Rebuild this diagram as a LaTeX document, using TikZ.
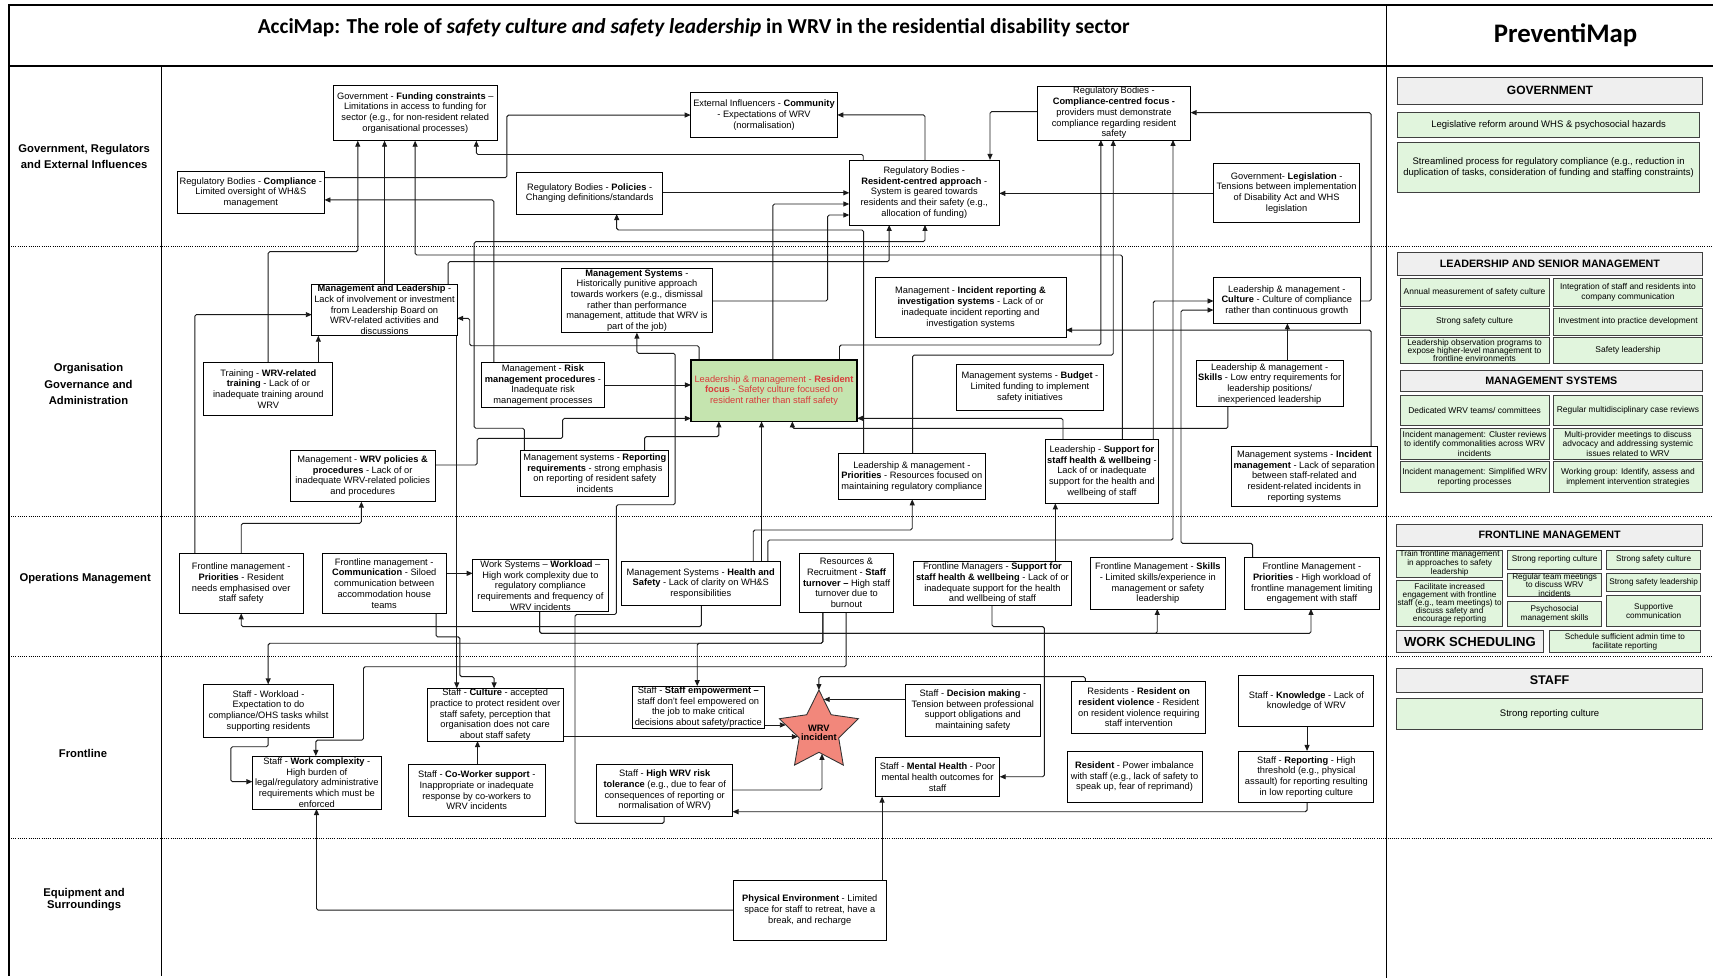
\documentclass[tikz,border=0pt]{standalone}
\usepackage{fontspec}
\setmainfont{Liberation Sans}
\newfontfamily\titlefont{Carlito}
\usetikzlibrary{arrows.meta}
\definecolor{rfgreen}{HTML}{C5E4AF}
\definecolor{rfred}{HTML}{D93A3A}
\definecolor{starfill}{HTML}{F2877B}
\definecolor{pmgreen}{HTML}{E1F5DD}
\definecolor{pmgray}{HTML}{EFEFEF}
\definecolor{linec}{HTML}{1A1A1A}
\pgfdeclarelayer{bg}
\pgfsetlayers{bg,main}
\newcommand{\accbox}[8]{%
  \pgfmathsetmacro{\cbW}{#5-#3}%
  \pgfmathsetmacro{\cbH}{#6-#4}%
  \pgfmathsetmacro{\cbX}{(#3+#5)/2}%
  \pgfmathsetmacro{\cbY}{(#4+#6)/2}%
  \node[#1, minimum width=\cbW pt, minimum height=\cbH pt] (#2) at (\cbX,\cbY) {};%
  \node[#7] at (#2.center) {#8};%
}
\begin{document}
\begin{tikzpicture}[x=1pt,y=-1pt,
  bx/.style={draw=black, line width=0.8pt, fill=white, inner sep=0pt, outer sep=0pt},
  rfbox/.style={bx, fill=rfgreen, line width=1.6pt},
  hdr/.style={draw=black!75, line width=0.8pt, fill=pmgray, inner sep=0pt, outer sep=0pt},
  pmb/.style={draw=black!75, line width=0.8pt, fill=pmgreen, inner sep=0pt, outer sep=0pt},
  tx/.style={align=center, inner sep=0pt, font=\fontsize{8.5}{9.8}\selectfont},
  rftx/.style={tx, text=rfred},
  hdtx/.style={align=center, inner sep=0pt, font=\fontsize{9.8}{11}\selectfont\bfseries},
  pmtx/.style={align=center, inner sep=0pt, font=\fontsize{8.7}{10.4}\selectfont},
  gtx/.style={align=center, inner sep=0pt, font=\fontsize{7.7}{8.8}\selectfont},
  ftx/.style={align=center, inner sep=0pt, font=\fontsize{7.5}{8.1}\selectfont},
  lane/.style={align=center, inner sep=0pt, font=\fontsize{10.3}{15}\selectfont\bfseries},
  cn/.style={draw=linec, line width=0.85pt, rounded corners=1.5pt, -{Triangle[length=5.5pt,width=4.6pt]}},
  frm/.style={line width=1.3pt},
  lanesep/.style={line width=0.7pt, dash pattern=on 0.9pt off 1.1pt},
]
\useasboundingbox (0,0) rectangle (1568,895);
% frame
\draw[frm] (1568,4.6) -- (8.1,4.6) -- (8.1,893);
\draw[frm] (8.1,60.3) -- (1568,60.3);
\draw[frm] (147.7,60.3) -- (147.7,893);
\draw[frm] (1269,4.6) -- (1269,895);
\foreach \yy in {225.5,472.5,601,767.5} \draw[lanesep] (8.1,\yy) -- (1568,\yy);
% titles
\node[font=\titlefont\fontsize{19.5}{23}\selectfont\bfseries] (title) at (635,25.5) {AcciMap: The role of \textit{safety culture and safety leadership} in WRV in the residential disability sector};
\node[font=\titlefont\fontsize{24.5}{28}\selectfont\bfseries] (pmtitle) at (1433,32) {PreventiMap};
% lane labels
\node[lane] (lgov) at (77,143) {Government, Regulators\\and External Influences};
\node[lane] (lorg) at (81,351.5) {Organisation\\Governance and\\Administration};
\node[lane] (lops) at (78,530) {Operations Management};
\node[lane] (lfl) at (76,690) {Frontline};
\node[lane, font=\fontsize{10.3}{11.6}\selectfont\bfseries] (leq) at (77,823.5) {Equipment and\\Surroundings};
% Government lane
\accbox{bx}{fund}{304.8}{77.8}{455.4}{128.8}{tx}{Government - \textbf{Funding constraints} –\\Limitations in access to funding for\\sector (e.g., for non-resident related\\organisational processes)}
\accbox{bx}{comm}{632.2}{84.5}{766.4}{126}{tx}{External Influencers - \textbf{Community}\\- Expectations of WRV\\(normalisation)}
\accbox{bx}{ccf}{949.5}{78.7}{1089.8}{128.1}{tx}{Regulatory Bodies -\\\textbf{Compliance-centred focus -}\\providers must demonstrate\\compliance regarding resident\\safety}
\accbox{bx}{compl}{162.2}{157.1}{297}{195.3}{tx}{Regulatory Bodies - \textbf{Compliance} -\\Limited oversight of WH\&S\\management}
\accbox{bx}{pol}{472.9}{157.7}{606.6}{195.9}{tx}{Regulatory Bodies - \textbf{Policies} -\\Changing definitions/standards}
\accbox{bx}{rca}{777.4}{146.4}{914.7}{205.9}{tx}{Regulatory Bodies -\\\textbf{Resident-centred approach} -\\System is geared towards\\residents and their safety (e.g.,\\allocation of funding)}
\accbox{bx}{leg}{1110.6}{149.5}{1244.8}{203.5}{tx}{Government- \textbf{Legislation} -\\Tensions between implementation\\of Disability Act and WHS\\legislation}
% Organisation lane
\accbox{bx}{ml}{285.4}{260}{418.5}{307.3}{tx}{\textbf{Management and Leadership} -\\Lack of involvement or investment\\from Leadership Board on\\WRV-related activities and\\discussions}
\accbox{bx}{msp}{514}{245.6}{652.1}{304.5}{tx}{\textbf{Management Systems} -\\Historically punitive approach\\towards workers (e.g., dismissal\\rather than performance\\management, attitude that WRV is\\part of the job)}
\accbox{bx}{irs}{801}{254.2}{975.8}{308.8}{tx}{Management - \textbf{Incident reporting \&}\\\textbf{investigation systems} - Lack of or\\inadequate incident reporting and\\investigation systems}
\accbox{bx}{cult}{1110.8}{253.9}{1244.9}{296}{tx}{Leadership \& management -\\\textbf{Culture} - Culture of compliance\\rather than continuous growth}
\accbox{bx}{trn}{186.6}{331.7}{304.7}{379.9}{tx}{Training - \textbf{WRV-related}\\\textbf{training} - Lack of or\\inadequate training around\\WRV}
\accbox{bx}{risk}{440.8}{331.7}{553.3}{373.2}{tx}{Management - \textbf{Risk}\\\textbf{management procedures} -\\Inadequate risk\\management processes}
\accbox{rfbox}{rf}{632.5}{329.2}{784.5}{385.7}{rftx}{Leadership \& management - \textbf{Resident}\\\textbf{focus} - Safety culture focused on\\resident rather than staff safety}
\accbox{bx}{bud}{875.5}{333.2}{1010}{375.3}{tx}{Management systems - \textbf{Budget} -\\Limited funding to implement\\safety initiatives}
\accbox{bx}{skl}{1094.7}{330.1}{1229.6}{372.3}{tx}{Leadership \& management -\\\textbf{Skills} - Low entry requirements for\\leadership positions/\\inexperienced leadership}
\accbox{bx}{wrvp}{265.4}{412.5}{398.5}{459.2}{tx}{Management - \textbf{WRV policies \&}\\\textbf{procedures} - Lack of or\\inadequate WRV-related policies\\and procedures}
\accbox{bx}{rreq}{476.8}{412.5}{612.2}{454}{tx}{Management systems - \textbf{Reporting}\\\textbf{requirements} - strong emphasis\\on reporting of resident safety\\incidents}
\accbox{bx}{pri}{767.6}{415}{901.7}{457.1}{tx}{Leadership \& management -\\\textbf{Priorities} - Resources focused on\\maintaining regulatory compliance}
\accbox{bx}{lsup}{956.9}{402.2}{1060.4}{460.7}{tx}{Leadership - \textbf{Support for}\\\textbf{staff health \& wellbeing} -\\Lack of or inadequate\\support for the health and\\wellbeing of staff}
\accbox{bx}{imgt}{1126.9}{408.3}{1261}{463.8}{tx}{Management systems - \textbf{Incident}\\\textbf{management} - Lack of separation\\between staff-related and\\resident-related incidents in\\reporting systems}
% Operations lane
\accbox{bx}{fpri}{163.9}{506.5}{277.7}{561.4}{tx}{Frontline management -\\\textbf{Priorities} - Resident\\needs emphasised over\\staff safety}
\accbox{bx}{comms}{294.8}{506.5}{408.6}{561.4}{tx}{Frontline management -\\\textbf{Communication} - Siloed\\communication between\\accommodation house\\teams}
\accbox{bx}{wload}{432.6}{512}{556.7}{559.9}{tx}{Work Systems – \textbf{Workload} –\\High work complexity due to\\regulatory compliance\\requirements and frequency of\\WRV incidents}
\accbox{bx}{hs}{568.8}{514.1}{714.1}{553.8}{tx}{Management Systems - \textbf{Health and}\\\textbf{Safety} - Lack of clarity on WH\&S\\responsibilities}
\accbox{bx}{turn}{731.8}{506.5}{818}{560.8}{tx}{Resources \&\\Recruitment - \textbf{Staff}\\\textbf{turnover –} High staff\\turnover due to\\burnout}
\accbox{bx}{fmsup}{835.8}{514.1}{981}{553.8}{tx}{Frontline Managers - \textbf{Support for}\\\textbf{staff health \& wellbeing} - Lack of or\\inadequate support for the health\\and wellbeing of staff}
\accbox{bx}{fmskl}{998.1}{510.4}{1121.6}{557.4}{tx}{Frontline Management - \textbf{Skills}\\- Limited skills/experience in\\management or safety\\leadership}
\accbox{bx}{fmpri}{1139.4}{510.4}{1262.2}{557.4}{tx}{Frontline Management -\\\textbf{Priorities} - High workload of\\frontline management limiting\\engagement with staff}
% Frontline lane
\accbox{bx}{swl}{186.6}{626.4}{305}{674.9}{tx}{Staff - Workload -\\Expectation to do\\compliance/OHS tasks whilst\\supporting residents}
\accbox{bx}{wcx}{231}{692}{349}{740.5}{tx}{Staff - \textbf{Work complexity} -\\High burden of\\legal/regulatory administrative\\requirements which must be\\enforced}
\accbox{bx}{scul}{390.8}{630.1}{515.7}{678.3}{tx}{Staff - \textbf{Culture} - accepted\\practice to protect resident over\\staff safety, perception that\\organisation does not care\\about staff safety}
\accbox{bx}{cow}{373.7}{699.7}{499}{747.6}{tx}{Staff - \textbf{Co-Worker support} -\\Inappropriate or inadequate\\response by co-workers to\\WRV incidents}
\accbox{bx}{emp}{578.7}{628}{699.7}{666.7}{tx}{Staff - \textbf{Staff empowerment –}\\staff don't feel empowered on\\the job to make critical\\decisions about safety/practice}
\accbox{bx}{tol}{546.4}{699.3}{670.5}{747.6}{tx}{Staff - \textbf{High WRV risk}\\\textbf{tolerance} (e.g., due to fear of\\consequences of reporting or\\normalisation of WRV)}
\accbox{bx}{dec}{828.6}{626.4}{952.5}{673.7}{tx}{Staff - \textbf{Decision making} -\\Tension between professional\\support obligations and\\maintaining safety}
\accbox{bx}{ror}{981}{624}{1103.8}{671.3}{tx}{Residents - \textbf{Resident on}\\\textbf{resident violence} - Resident\\on resident violence requiring\\staff intervention}
\accbox{bx}{know}{1134}{618.5}{1257.6}{665.2}{tx}{Staff - \textbf{Knowledge} - Lack of\\knowledge of WRV}
\accbox{bx}{mh}{801.2}{693.2}{915.1}{729.2}{tx}{Staff - \textbf{Mental Health} - Poor\\mental health outcomes for\\staff}
\accbox{bx}{rpi}{976.7}{687.4}{1100.3}{734.7}{tx}{\textbf{Resident} - Power imbalance\\with staff (e.g., lack of safety to\\speak up, fear of reprimand)}
\accbox{bx}{rep}{1134}{687.4}{1257.6}{734.7}{tx}{Staff - \textbf{Reporting} - High\\threshold (e.g., physical\\assault) for reporting resulting\\in low reporting culture}
% Equipment lane
\accbox{bx}{phys}{671}{805.5}{811.4}{860.4}{tx}{\textbf{Physical Environment} - Limited\\space for staff to retreat, have a\\break, and recharge}
% WRV incident star
\begin{scope}[shift={(749.6,669.6)}]
\draw[fill=starfill, draw=black!80, line width=0.8pt] (-90:38) -- (-54:19) -- (-18:38) -- (18:19) -- (54:38) -- (90:19) -- (126:38) -- (162:19) -- (198:38) -- (234:19) -- cycle;
\end{scope}
\node[align=center, inner sep=0pt, font=\fontsize{8.5}{8.5}\selectfont\bfseries] (wrv) at (749.6,671) {WRV\\incident};
\coordinate (wrvT) at (749.6,631.6);
\coordinate (wrvR) at (754,640.2);
\coordinate (wrvL1) at (719.3,663.6);
\coordinate (wrvL2) at (730.3,674.3);
\coordinate (wrvB) at (752.4,690);
% PreventiMap
\accbox{hdr}{pgov}{1279}{71.1}{1558.5}{95.2}{hdtx,font=\fontsize{11}{13}\selectfont\bfseries}{GOVERNMENT}
\accbox{pmb}{pg1}{1279}{102.8}{1556}{126}{pmtx}{Legislative reform around WHS \& psychosocial hazards}
\accbox{pmb}{pg2}{1279}{130.6}{1556}{176.4}{pmtx}{Streamlined process for regulatory compliance (e.g., reduction in\\duplication of tasks, consideration of funding and staffing constraints)}
\accbox{hdr}{plsm}{1279}{231}{1558.5}{251.7}{hdtx}{LEADERSHIP AND SENIOR MANAGEMENT}
\accbox{pmb}{pl1}{1281.5}{254.8}{1418}{280.1}{gtx}{Annual measurement of safety culture}
\accbox{pmb}{pl2}{1421.8}{254.8}{1558.5}{280.1}{gtx}{Integration of staff and residents into\\company communication}
\accbox{pmb}{pl3}{1281.5}{282.2}{1418}{306.6}{gtx}{Strong safety culture}
\accbox{pmb}{pl4}{1421.8}{282.2}{1558.5}{306.6}{gtx}{Investment into practice development}
\accbox{pmb}{pl5}{1281.5}{308.8}{1418}{332.6}{gtx,font=\fontsize{7.7}{7.6}\selectfont}{Leadership observation programs to\\expose higher-level management to\\frontline environments}
\accbox{pmb}{pl6}{1421.8}{308.8}{1558.5}{332.6}{gtx}{Safety leadership}
\accbox{hdr}{pms}{1281.5}{338.7}{1558.5}{358.5}{hdtx}{MANAGEMENT SYSTEMS}
\accbox{pmb}{pm1}{1281.5}{361.6}{1418}{389}{gtx}{Dedicated WRV teams/ committees}
\accbox{pmb}{pm2}{1421.8}{361.6}{1558.5}{389}{gtx}{Regular multidisciplinary case reviews}
\accbox{pmb}{pm3}{1281.5}{392}{1418}{420.4}{gtx}{Incident management: Cluster reviews\\to identify commonalities across WRV\\incidents}
\accbox{pmb}{pm4}{1421.8}{392}{1558.5}{420.4}{gtx}{Multi-provider meetings to discuss\\advocacy and addressing systemic\\issues related to WRV}
\accbox{pmb}{pm5}{1281.5}{422.6}{1418}{451}{gtx}{Incident management: Simplified WRV\\reporting processes}
\accbox{pmb}{pm6}{1421.8}{422.6}{1558.5}{451}{gtx}{Working group: Identify, assess and\\implement intervention strategies}
\accbox{hdr}{pfm}{1278.4}{479.6}{1558.5}{499.8}{hdtx}{FRONTLINE MANAGEMENT}
\accbox{pmb}{pf1}{1278.4}{503.4}{1375.4}{528.4}{ftx}{Train frontline management\\in approaches to safety\\leadership}
\accbox{pmb}{pf2}{1278.4}{531.5}{1375.4}{573.6}{ftx,font=\fontsize{7.5}{7.3}\selectfont}{Facilitate increased\\engagement with frontline\\staff (e.g., team meetings) to\\discuss safety and\\encourage reporting}
\accbox{pmb}{pf3}{1380}{503.4}{1466}{521.1}{ftx}{Strong reporting culture}
\accbox{pmb}{pf4}{1380}{524.8}{1466}{546.2}{ftx}{Regular team meetings\\to discuss WRV\\incidents}
\accbox{pmb}{pf5}{1380}{550.7}{1466}{573.6}{ftx}{Psychosocial\\management skills}
\accbox{pmb}{pf6}{1470.6}{503.4}{1556.7}{521.1}{ftx}{Strong safety culture}
\accbox{pmb}{pf7}{1470.6}{524.8}{1556.7}{541.6}{ftx}{Strong safety leadership}
\accbox{pmb}{pf8}{1470.6}{545.2}{1556.7}{573.6}{ftx}{Supportive\\communication}
\accbox{hdr}{pws}{1278.4}{577.3}{1412.7}{597.4}{hdtx,font=\fontsize{12}{14}\selectfont\bfseries}{WORK SCHEDULING}
\accbox{pmb}{pws1}{1418.1}{577.3}{1556.7}{597.4}{ftx}{Schedule sufficient admin time to\\facilitate reporting}
\accbox{hdr}{pst}{1278.4}{611.7}{1558.5}{634}{hdtx,font=\fontsize{11.5}{13}\selectfont\bfseries}{STAFF}
\accbox{pmb}{pst1}{1278.4}{639.2}{1558.5}{667.3}{pmtx}{Strong reporting culture}
% connectors
\begin{pgfonlayer}{bg}
% government lane
\draw[cn] (compl.east |- 0,162.6) -- (464,162.6) -- (464,105.3) -- (comm.west |- 0,105.3);
\draw[cn] (790.2,0 |- rca.north) -- (790.2,141.4) -- (436,141.4) -- (436,0 |- fund.south);
\draw[cn] (452,0 |- risk.north) -- (452,183) -- (compl.east |- 0,183);
\draw[cn] (245.5,0 |- trn.north) -- (245.5,230.4) -- (327.5,230.4) -- (327.5,0 |- fund.south);
\draw[cn] (352,0 |- ml.north) -- (352,0 |- fund.south);
\draw[cn] (1027.4,0 |- lsup.north) -- (1027.4,233.4) -- (380,233.4) -- (380,0 |- fund.south);
\draw[cn] (410.2,0 |- ml.north) -- (410.2,239.5) -- (813.9,239.5) -- (813.9,0 |- rca.south);
\draw[cn] (480,0 |- rreq.north) -- (480,392) -- (434,392) -- (434,221.2) -- (846.7,221.2) -- (846.7,0 |- rca.south);
\draw[cn] (707.5,0 |- rf.north) -- (707.5,186.7) -- (rca.west |- 0,186.7);
\draw[cn] (msp.east |- 0,275.5) -- (757.5,275.5) -- (757.5,196.8) -- (rca.west |- 0,196.8);
\draw[cn] (pol.east |- 0,176.5) -- (rca.west |- 0,176.5);
\draw[cn] (790.5,0 |- pri.north) -- (790.5,210.5) -- (564.5,210.5) -- (564.5,0 |- pol.south);
\draw[cn] (ccf.west |- 0,102.2) -- (906.2,102.2) -- (906.2,0 |- rca.north);
\draw[cn] (846.7,0 |- rca.north) -- (846.7,105.2) -- (comm.east |- 0,105.2);
\draw[cn] (leg.west |- 0,177) -- (rca.east |- 0,177);
\draw[cn] (cult.east |- 0,275.5) -- (1255,275.5) -- (1255,103.1) -- (ccf.east |- 0,103.1);
\draw[cn] (768.4,0 |- rf.north) -- (768.4,315.8) -- (1007.7,315.8) -- (1007.7,0 |- ccf.south);
\draw[cn] (835.3,0 |- pri.north) -- (835.3,325) -- (1019,325) -- (1019,0 |- ccf.south);
\draw[cn] (702.8,0 |- hs.north) -- (702.8,494.3) -- (1073.7,494.3) -- (1073.7,0 |- ccf.south);
% organisation lane
\draw[cn] (291.4,0 |- trn.north) -- (291.4,0 |- ml.south);
\draw[cn] (178.3,0 |- fpri.north) -- (178.3,288) -- (ml.west |- 0,288);
\draw[cn] (640,0 |- rf.north) -- (640,316.5) -- (430,316.5) -- (430,291.4) -- (ml.east |- 0,291.4);
\draw[cn] (607.9,0 |- tol.south) -- (607.9,753.7) -- (526.3,753.7) -- (526.3,562.5) -- (564.2,562.5) -- (564.2,462) -- (618,462) -- (618,323.4) -- (583,323.4) -- (583,0 |- msp.south);
\draw[cn] (risk.east |- 0,352.4) -- (rf.west |- 0,352.4);
\draw[cn] (wrvp.east |- 0,425.6) -- (436.8,425.6) -- (436.8,401.3) -- (515,401.3) -- (515,383) -- (rf.west |- 0,383);
\draw[cn] (590,0 |- rreq.north) -- (590,399.7) -- (658,399.7) -- (658,0 |- rf.south);
\draw[cn] (1124,0 |- skl.south) -- (1124,392.1) -- (725.3,392.1) -- (725.3,0 |- rf.south);
\draw[cn] (973,0 |- lsup.north) -- (973,382.9) -- (rf.east |- 0,382.9);
\draw[cn] (697.1,0 |- hs.north) -- (697.1,0 |- rf.south);
\draw[cn] (1178.4,0 |- skl.north) -- (1178.4,0 |- cult.south);
\draw[cn] (1055.6,0 |- lsup.north) -- (1055.6,275.5) -- (cult.west |- 0,275.5);
\draw[cn] (1146.5,0 |- fmpri.north) -- (1146.5,497.3) -- (1081,497.3) -- (1081,283.8) -- (cult.west |- 0,283.8);
\draw[cn] (1255,0 |- imgt.north) -- (1255,302.1) -- (irs.east |- 0,302.1);
\draw[cn] (689.5,0 |- hs.north) -- (689.5,485.1) -- (835,485.1) -- (835,0 |- pri.south);
\draw[cn] (966,0 |- fmsup.north) -- (966,0 |- lsup.south);
\draw[cn] (220.8,0 |- fpri.north) -- (220.8,479) -- (330.8,479) -- (330.8,0 |- wrvp.south);
\draw[cn] (418.1,0 |- ml.south) -- (418.1,0 |- scul.north);
% operations lane
\draw[cn] (comms.east |- 0,524.8) -- (wload.west |- 0,524.8);
\draw[cn] (642,0 |- hs.south) -- (642,573.6) -- (220.8,573.6) -- (220.8,0 |- fpri.south);
\draw[cn] (494,0 |- wload.south) -- (494,579.7) -- (1059.3,579.7) -- (1059.3,0 |- fmskl.south);
\draw[cn] (494,0 |- wload.south) -- (494,579.7) -- (1200,579.7) -- (1200,0 |- fmpri.south);
\draw[cn] (399.2,0 |- comms.south) -- (399.2,583) -- (421,583) -- (421,619.4) -- (452.3,619.4) -- (452.3,0 |- scul.north);
\draw[cn] (753.2,0 |- turn.south) -- (753.2,588.8) -- (245.5,588.8) -- (245.5,0 |- swl.north);
\draw[cn] (753.2,0 |- turn.south) -- (753.2,588.8) -- (638.2,588.8) -- (638.2,0 |- emp.north);
\draw[cn] (774.5,0 |- turn.south) -- (774.5,610.3) -- (332.7,610.3) -- (332.7,677.5) -- (289.1,677.5) -- (289.1,0 |- wcx.north);
\draw[cn] (908,0 |- fmsup.south) -- (908,573.6) -- (956,573.6) -- (956,711) -- (mh.east |- 0,711);
% frontline lane
\draw[cn] (245.5,0 |- swl.south) -- (245.5,683.5) -- (211.3,683.5) -- (211.3,715.5) -- (wcx.west |- 0,715.5);
\draw[cn] (437.1,0 |- cow.north) -- (437.1,0 |- scul.south);
\draw[cn] (scul.east |- 0,674.3) -- (wrvL2);
\draw[cn] (emp.east |- 0,663.6) -- (wrvL1);
\draw[cn] (tol.east |- 0,723.1) -- (752.4,723.1) -- (wrvB);
\draw[cn] (dec.west |- 0,640.2) -- (wrvR);
\draw[cn] (993.5,0 |- ror.north) -- (993.5,619.4) -- (749.6,619.4) -- (wrvT);
\draw[cn] (1196.4,0 |- know.south) -- (1196.4,0 |- rep.north);
\draw[cn] (1196.4,0 |- rep.south) -- (1196.4,743) -- (tol.east |- 0,743);
\draw[cn] (807.4,0 |- phys.north) -- (807.4,0 |- mh.south);
\draw[cn] (phys.west |- 0,833) -- (289.7,833) -- (289.7,0 |- wcx.south);
\end{pgfonlayer}
\end{tikzpicture}
\end{document}
